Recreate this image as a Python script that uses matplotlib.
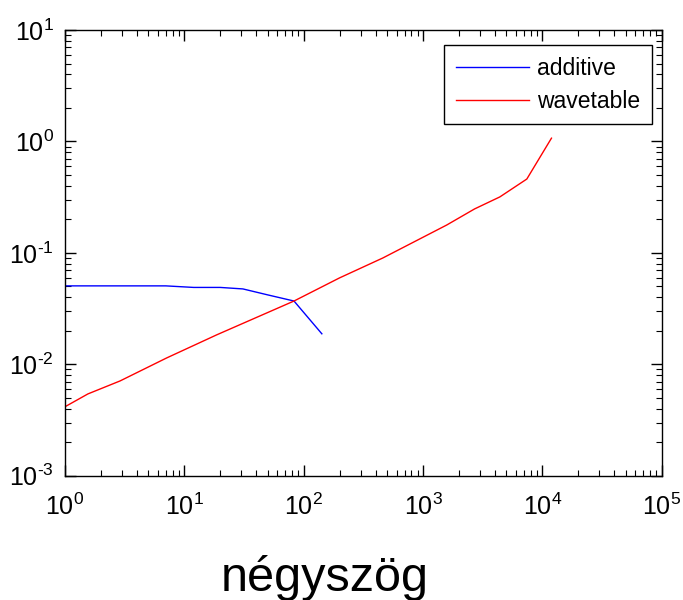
import matplotlib
matplotlib.use("Agg")
import matplotlib.pyplot as plt
from matplotlib.ticker import LogLocator, FixedLocator

plt.rcParams['font.family'] = ['Liberation Sans', 'DejaVu Sans']
plt.rcParams['mathtext.fontset'] = 'custom'
plt.rcParams['mathtext.rm'] = 'Liberation Sans'
plt.rcParams['mathtext.it'] = 'Liberation Sans'

additive_x = [1, 7, 12, 20, 31, 50, 83, 142]
additive_y = [0.0506, 0.0506, 0.049, 0.049, 0.0475, 0.042, 0.037, 0.0188]

wavetable_x = [1, 1.56, 2.9, 7.1, 18.7, 83, 200, 460, 1580, 2700, 4400, 7400, 11900]
wavetable_y = [0.00416, 0.00543, 0.0071, 0.0114, 0.0184, 0.037, 0.0597, 0.090,
               0.178, 0.248, 0.318, 0.46, 1.07]

xticks = [1, 10, 100, 1000, 10000, 100000]
yticks = [0.001, 0.01, 0.1, 1, 10]

fig = plt.figure(figsize=(6.83, 6.0), dpi=100)
ax = fig.add_axes([0.095, 0.207, 0.874, 0.743])

ax.plot(additive_x, additive_y, color='blue', lw=1, label='additive')
ax.plot(wavetable_x, wavetable_y, color='red', lw=1, label='wavetable')

ax.set_xscale('log')
ax.set_yscale('log')
ax.set_xlim(1, 1e5)
ax.set_ylim(1e-3, 1e1)

ax.xaxis.set_major_locator(FixedLocator(xticks))
ax.yaxis.set_major_locator(FixedLocator(yticks))
ax.xaxis.set_minor_locator(LogLocator(base=10, subs=range(2, 10), numticks=20))
ax.yaxis.set_minor_locator(LogLocator(base=10, subs=range(2, 10), numticks=20))
ax.set_xticklabels([r'$10^{\text{%d}}$' % i for i in range(6)])
ax.set_yticklabels([r'$10^{\text{%d}}$' % i for i in range(-3, 2)])

ax.tick_params(which='both', direction='in', top=True, right=True, labelsize=18)
ax.tick_params(which='major', length=8, width=1)
ax.tick_params(which='minor', length=4, width=0.8)
ax.tick_params(axis='x', which='major', pad=13)
ax.tick_params(axis='y', which='major', pad=8)
for s in ax.spines.values():
    s.set_linewidth(1)

ax.set_xlabel('négyszög', fontsize=35)
ax.xaxis.label.set_va('baseline')
ax.xaxis.set_label_coords(0.435, -0.258)

leg = ax.legend(loc='upper right', bbox_to_anchor=(0.983, 0.966), borderaxespad=0,
                fontsize=16.5, frameon=True, fancybox=False,
                edgecolor='black', framealpha=1, handlelength=3.2,
                handletextpad=0.35, labelspacing=0.45, borderpad=0.5)
leg.get_frame().set_linewidth(1)

fig.savefig('out.png', dpi=100)
